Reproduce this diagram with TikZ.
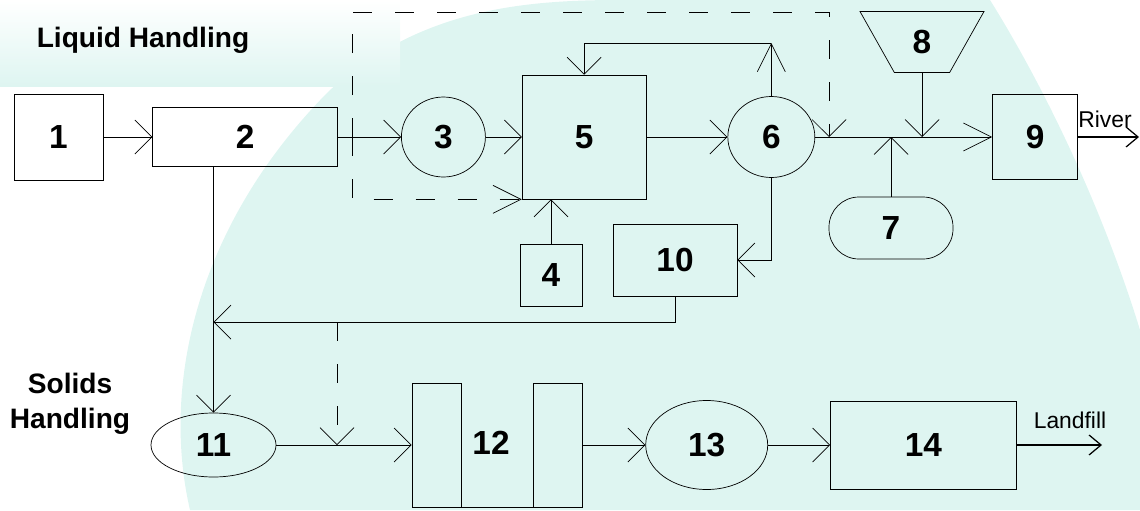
\documentclass[tikz,border=0pt]{standalone}
\usepackage{fontspec}
\setmainfont{Liberation Sans}
\usetikzlibrary{shapes.geometric,arrows.meta,calc,positioning}
\definecolor{print}{RGB}{222,245,241}
\tikzset{
	-{Straight Barb[length=3.4mm,width=6.8mm]}, line width=1.2pt, x=0.2mm, y=-0.2mm,
}

\begin{document}
\begin{tikzpicture}[
	box/.style={draw, inner sep=0pt, font=\bfseries\fontsize{19}{22}\selectfont},
	disc/.style={draw, ellipse, inner sep=0pt, font=\bfseries\fontsize{19}{22}\selectfont},
	tank/.style={draw, inner sep=0pt, rounded corners=6mm, font=\bfseries\fontsize{19}{22}\selectfont},
	hopper/.style={draw, trapezium, shape border rotate=180, trapezium stretches=true, trapezium left angle=64, trapezium right angle=64, inner sep=0pt, font=\bfseries\fontsize{19}{22}\selectfont},
	title/.style={align=center, font=\bfseries\fontsize{16}{20}\selectfont},
	outlet/.style={font=\fontsize{13}{15}\selectfont},
	bypass/.style={dash pattern=on 3.8mm off 4.6mm},
	long/.style={-{Straight Barb[length=5.6mm,width=5.6mm]}},
	]
	\useasboundingbox (0,0) rectangle (1140,510);
	%background print
	\fill[print] (190,510) .. controls (160,380) and (200,220) .. (330,90) .. controls (420,10) and (520,0) .. (620,0) -- (990,0) .. controls (1040,80) and (1100,200) .. (1140,330) -- (1140,510) -- cycle;
	\shade[top color=white, bottom color=print] (0,0) rectangle (400,86);

	%liquid line
	\node[title] (liquid) at (143,40) {Liquid Handling};
	\node[box, minimum width=17.8mm, minimum height=17.2mm] (1) at (58.5,137) {1};
	\node[box, minimum width=37mm, minimum height=11.8mm] (2) [right = 9.8mm of 1] {2};
	\node[disc, minimum width=16.8mm, minimum height=16mm] (3) [right = 12.6mm of 2] {3};
	\node[box, minimum size=24.8mm] (5) [right = 7.2mm of 3] {5};
	\node[disc, minimum width=17.4mm, minimum height=16.2mm] (6) [right = 16.2mm of 5] {6};
	\node[box, minimum size=17mm] (9) [right = 35.4mm of 6] {9};
	\node[box, minimum size=12.4mm] (4) at (551,275) {4};
	\node[box, minimum width=24.8mm, minimum height=14.4mm] (10) at (675,260) {10};
	\node[tank, minimum width=24.8mm, minimum height=12.4mm] (7) at (891,228) {7};
	\node[hopper, minimum width=24.8mm, minimum height=12.2mm] (8) at (922,42) {8};
	\node[outlet] (river) at (1105,119) {River};

	%solids line
	\node[title] (solids) at (70,404) {Solids\\Handling};
	\node[disc, minimum width=25mm, minimum height=12.8mm] (11) at (213.5,445) {11};
	\node[box, minimum width=9.8mm, minimum height=24.8mm] (12a) at (436.5,445) {};
	\node[box, minimum width=9.8mm, minimum height=24.8mm] (12b) at (557.5,445) {};
	\node[font=\bfseries\fontsize{19}{22}\selectfont] (12) at (491,443) {12};
	\node[disc, minimum width=24.4mm, minimum height=17.8mm] (13) [right = 12.6mm of 12b] {13};
	\node[box, minimum width=37.2mm, minimum height=17.6mm] (14) [right = 12.4mm of 13] {14};
	\node[outlet] (landfill) at (1070,420) {Landfill};

	%junctions
	\coordinate (j4) at (352,137);
	\coordinate (dtop) at (829,12);
	\coordinate (j5) at (dtop |- 6.east);
	\coordinate (top6) at (6.north |- 0,43);
	\coordinate (j1) at (11.north |- 0,322);
	\coordinate (j2) at (337,322);
	\coordinate (j3) at (j2 |- 11.east);
	\coordinate (riverend) at (1139,137);
	\coordinate (fillend) at (1102,445);

	%straight paths
	\path (1.east) edge[] (2.west);
	\path (2.east) edge[] (3.west);
	\path (3.east) edge[] (5.west);
	\path (5.east) edge[] (6.west);
	\path (6.east) edge[long] (9.west);
	\path (4.north) edge[] (4.north |- 5.south);
	\path (8.south) edge[] (8.south |- 6.east);
	\path (7.north) edge[] (7.north |- 6.east);
	\path (9.east) edge[line width=0.7pt, -{Straight Barb[length=2.4mm,width=4mm]}] (riverend);
	\path (11.north |- 2.south) edge[] (11.north);
	\path (11.east) edge[] (12a.west);
	\path (12b.east) edge[] (13.west);
	\path (13.east) edge[] (14.west);
	\path (14.east) edge[line width=0.7pt, -{Straight Barb[length=2.4mm,width=4mm]}] (fillend);
	\draw[-] (12a.south east) -- (12b.south west);

	%bent paths
	\draw[long] (6.north) -- (top6);
	\draw (top6) -| (5.north);
	\draw (6.south) |- (10.east);
	\draw (10.south) |- (j1);
	\draw[bypass] (j4) |- (dtop) -- (j5);
	\draw[bypass, long] (j4) |- (5.south west);
	\draw[bypass] (j2) -- (j3);
\end{tikzpicture}
\end{document}
